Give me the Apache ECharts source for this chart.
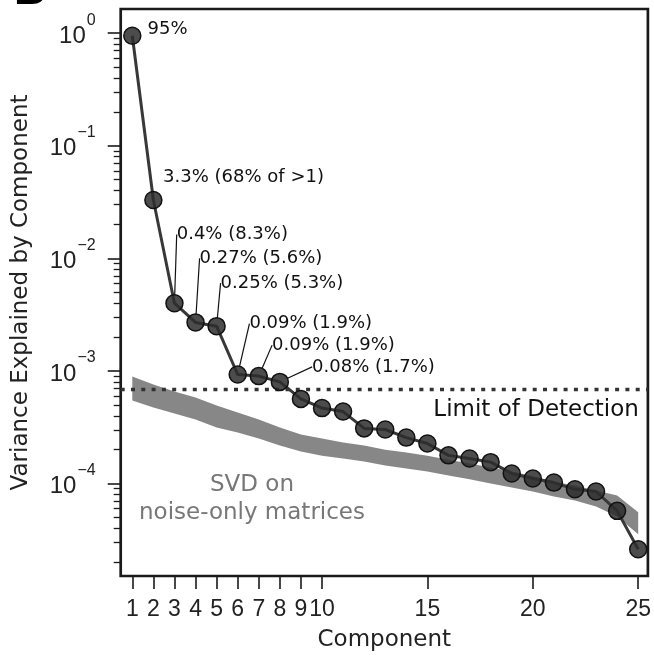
<!DOCTYPE html>
<html>
<head>
<meta charset="utf-8">
<script src="https://cdn.jsdelivr.net/npm/echarts@6/dist/echarts.min.js"></script>
<style>
  html, body { margin: 0; padding: 0; background: #fff; }
  #chart { width: 654px; height: 657px; }
</style>
</head>
<body>
<div id="chart"></div>
<script>
// 数据：主成分方差解释比例
const components = [1, 2, 3, 4, 5, 6, 7, 8, 9, 10, 11, 12, 13, 14, 15, 16, 17, 18, 19, 20, 21, 22, 23, 24, 25];
const variance = [0.95, 0.033, 0.0040, 0.0027, 0.0025, 0.00093, 0.00090, 0.00080, 0.000565, 0.000468,
  0.000436, 0.000309, 0.000302, 0.000256, 0.000227, 0.000178, 0.000167, 0.000155, 0.000123, 0.000111,
  0.000102, 0.0000889, 0.0000850, 0.0000572, 0.0000261];
// 纯噪声矩阵SVD的上下包络
const noiseUpper = [8.91e-4, 7.57e-4, 6.56e-4, 5.81e-4, 4.93e-4, 4.28e-4, 3.71e-4, 3.15e-4, 2.73e-4, 2.51e-4,
  2.32e-4, 2.18e-4, 2.00e-4, 1.89e-4, 1.77e-4, 1.63e-4, 1.51e-4, 1.39e-4, 1.28e-4, 1.16e-4,
  1.04e-4, 9.62e-5, 8.69e-5, 7.85e-5, 5.55e-5];
const noiseLower = [5.46e-4, 4.73e-4, 4.18e-4, 3.71e-4, 3.15e-4, 2.84e-4, 2.51e-4, 2.18e-4, 1.93e-4, 1.77e-4,
  1.67e-4, 1.57e-4, 1.45e-4, 1.36e-4, 1.28e-4, 1.18e-4, 1.09e-4, 1.00e-4, 9.24e-5, 8.51e-5,
  7.69e-5, 7.08e-5, 6.26e-5, 5.11e-5, 3.54e-5];
const limitOfDetection = 0.000684;
const pointNotes = ['95%', '3.3% (68% of >1)', '0.4% (8.3%)', '0.27% (5.6%)', '0.25% (5.3%)',
  '0.09% (1.9%)', '0.09% (1.9%)', '0.08% (1.7%)'];
const xTickValues = [1, 2, 3, 4, 5, 6, 7, 8, 9, 10, 15, 20, 25];
const yMajorTicks = [1, 0.1, 0.01, 0.001, 0.0001];
const yMinorTicks = [];
[1e-5, 1e-4, 1e-3, 1e-2, 1e-1].forEach(d => {
  for (let k = 2; k <= 9; k++) yMinorTicks.push(+(k * d).toPrecision(3));
});

// 坐标轴范围
const xMin = 0.45, xMax = 25.46;
const yMin = 1.51e-5, yMax = 1.64;

// 标注偏移（相对于点右侧）
const noteOffsets = [[6, -6], [0.5, -23], [-7, -68.6], [-5.2, -64], [-5.3, -43], [2.5, -51], [4.1, -31], [23, -15]];

const wordFont = 'DejaVu Sans';
const numFont = 'Liberation Sans';
const ink = '#1a1a1a';

const chart = echarts.init(document.getElementById('chart'));

const yBase = {
  type: 'log',
  logBase: 10,
  min: yMin,
  max: yMax,
  position: 'left',
  axisLine: { show: false },
  splitLine: { show: false }
};

const mainData = components.map((c, i) => {
  const item = { value: [c, variance[i]] };
  if (pointNotes[i]) {
    item.label = { show: true, formatter: pointNotes[i] };
    item.labelLine = { show: i >= 2 };
  }
  return item;
});

const option = {
  animation: false,
  backgroundColor: '#fff',
  grid: {
    left: 120.7, top: 9, right: 5, bottom: 80.3,
    show: true, borderColor: ink, borderWidth: 2.7, backgroundColor: 'transparent'
  },
  xAxis: {
    type: 'value',
    min: xMin,
    max: xMax,
    axisLine: { show: false },
    splitLine: { show: false },
    axisTick: { customValues: xTickValues, length: 13, lineStyle: { color: ink, width: 1.6 } },
    axisLabel: { customValues: xTickValues, fontSize: 23, color: '#222', fontFamily: numFont, margin: 22 },
    name: 'Component',
    nameLocation: 'middle',
    nameGap: 53,
    nameTextStyle: { fontSize: 23, color: '#222', fontFamily: wordFont }
  },
  yAxis: [
    Object.assign({}, yBase, {
      axisTick: { customValues: yMajorTicks, length: 13, lineStyle: { color: ink, width: 1.6 } },
      axisLabel: {
        customValues: yMajorTicks,
        margin: 25,
        formatter: v => '{b|10}{s|' + String(Math.round(Math.log10(v))).replace('-', '\u2212') + '}',
        rich: {
          b: { fontSize: 24, fontFamily: numFont, color: '#222', padding: [6, 0, 0, 0] },
          s: { fontSize: 16, fontFamily: numFont, color: '#222', padding: [0, 0, 26, 1] }
        }
      },
      name: 'Variance Explained by Component',
      nameLocation: 'middle',
      nameGap: 88,
      nameTextStyle: { fontSize: 23, color: '#222', fontFamily: wordFont }
    }),
    Object.assign({}, yBase, {
      axisTick: { customValues: yMinorTicks, length: 7, lineStyle: { color: ink, width: 1.3 } },
      axisLabel: { show: false }
    })
  ],
  graphic: [
    {
      type: 'text', left: 14, top: -30, z: 10,
      style: { text: 'B', fontSize: 44, fontWeight: 'bold', fontFamily: numFont, fill: '#000' }
    },
    {
      type: 'text', x: 252, y: 499, z: 10,
      style: {
        text: 'SVD on\nnoise-only matrices', fontSize: 23, lineHeight: 28, fontFamily: wordFont,
        fill: '#777', align: 'center', verticalAlign: 'middle'
      }
    }
  ],
  series: [
    {
      // 噪声带
      type: 'custom',
      z: 1,
      silent: true,
      data: components.map((c, i) => [c, noiseUpper[i], noiseLower[i]]),
      encode: { x: 0, y: [1, 2] },
      renderItem: function (params, api) {
        if (params.dataIndex !== 0) return;
        const pts = [];
        for (let i = 0; i < components.length; i++) pts.push(api.coord([components[i], noiseUpper[i]]));
        for (let i = components.length - 1; i >= 0; i--) pts.push(api.coord([components[i], noiseLower[i]]));
        return { type: 'polygon', shape: { points: pts }, style: { fill: '#878787' } };
      }
    },
    {
      // 检测限（横跨整个x轴范围）
      type: 'line',
      z: 2,
      silent: true,
      data: [[xMin, limitOfDetection], [xMax, limitOfDetection]],
      symbol: 'none',
      lineStyle: { type: [4, 6.3], width: 3.5, color: '#333', cap: 'butt' },
      endLabel: {
        show: true,
        formatter: 'Limit of Detection',
        fontSize: 23,
        color: '#111',
        fontFamily: wordFont,
        align: 'right',
        verticalAlign: 'middle',
        distance: 0,
        offset: [-9, 20.5]
      }
    },
    {
      type: 'line',
      z: 3,
      data: mainData,
      symbol: 'circle',
      symbolSize: 17,
      lineStyle: { color: '#383838', width: 3 },
      itemStyle: { color: 'rgba(45,45,45,0.85)', borderColor: '#111', borderWidth: 1.5 },
      label: {
        show: false, position: 'right', distance: 0,
        fontSize: 18, color: '#111', fontFamily: wordFont, align: 'left', verticalAlign: 'middle'
      },
      labelLine: { lineStyle: { color: '#111', width: 1.2 } },
      labelLayout: function (params) {
        const o = noteOffsets[params.dataIndex];
        return o ? { dx: o[0], dy: o[1] } : {};
      }
    }
  ]
};

chart.setOption(option);
</script>
</body>
</html>
